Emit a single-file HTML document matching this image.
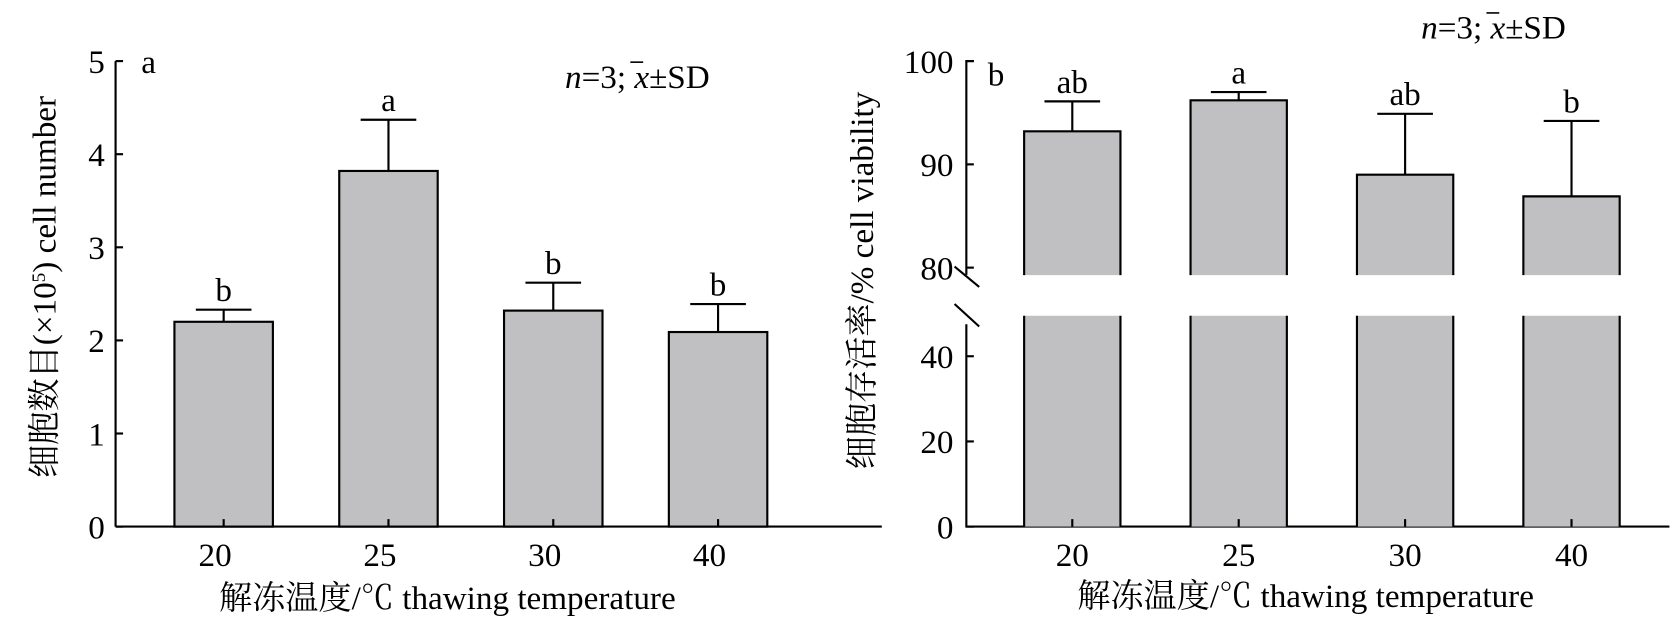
<!DOCTYPE html>
<html><head><meta charset="utf-8"><style>
html,body{margin:0;padding:0;background:#fff;}
svg{display:block;}
text{font-family:"Liberation Serif","Noto Serif CJK SC","Noto Sans CJK SC",serif;fill:#000;}
</style></head><body>
<svg id="chart" width="1678" height="638" viewBox="0 0 1568 596" xmlns="http://www.w3.org/2000/svg">
<g id="pa"></g>
<g id="pb"></g>
</svg>
<script>
const categories = ["20","25","30","40"];
const countMeans = [2.2, 3.82, 2.32, 2.09];
const countErrTops = [2.33, 4.37, 2.62, 2.39];
const countLetters = ["b","a","b","b"];
const countTicks = [0,1,2,3,4,5];
const viaMeans = [93.2, 96.2, 89.0, 86.9];
const viaErrTops = [96.1, 97.0, 94.9, 94.2];
const viaLetters = ["ab","a","ab","b"];
const viaTicksLow = [0,20,40];
const viaTicksHigh = [80,90,100];

const NS="http://www.w3.org/2000/svg";
function el(p,t,a,txt){const e=document.createElementNS(NS,t);for(const k in a)e.setAttribute(k,a[k]);if(txt!==undefined)e.textContent=txt;p.appendChild(e);return e;}
const FS=31;

function statsNote(p,x,y,name){
  const g=el(p,'g',{});
  
  
  const t=el(g,'text',{x:x,y:y,'font-size':FS});
  t.innerHTML='<tspan font-style="italic">n</tspan>=3; <tspan font-style="italic">x</tspan>±SD';
  const l=el(g,'line',{x1:x+61,y1:y-24,x2:x+73,y2:y-24,stroke:'#000','stroke-width':1.5});
}

// Panel A
const A=document.getElementById('pa');
const ax0=108, ay0=492, ayTop=57;
const yA=v=>ay0-(v/5)*(ay0-ayTop);
const xA=i=>209+i*154;
const bw=92;
let e;
e=el(A,'line',{x1:ax0,y1:ayTop,x2:ax0,y2:ay0,stroke:'#000','stroke-width':2});

e=el(A,'line',{x1:ax0,y1:ay0,x2:824,y2:ay0,stroke:'#000','stroke-width':2});

countTicks.forEach(t=>{
  e=el(A,'line',{x1:ax0,y1:yA(t),x2:ax0+7,y2:yA(t),stroke:'#000','stroke-width':2});
  
  e=el(A,'text',{x:ax0-10,y:yA(t)+11,'text-anchor':'end','font-size':FS},String(t));
  
});
categories.forEach((c,i)=>{
  const cx=xA(i);
  e=el(A,'rect',{x:cx-bw/2,y:yA(countMeans[i]),width:bw,height:ay0-yA(countMeans[i]),fill:'#c0bfc1',stroke:'#000','stroke-width':2});
  
  e=el(A,'path',{d:`M${cx} ${yA(countMeans[i])}V${yA(countErrTops[i])}M${cx-26} ${yA(countErrTops[i])}H${cx+26}`,stroke:'#000','stroke-width':2,fill:'none'});
  
  e=el(A,'text',{x:cx,y:yA(countErrTops[i])-8,'text-anchor':'middle','font-size':FS},countLetters[i]);
  
  e=el(A,'line',{x1:cx,y1:ay0,x2:cx,y2:ay0-7,stroke:'#000','stroke-width':2});
  
  e=el(A,'text',{x:cx-8,y:529,'text-anchor':'middle','font-size':FS},c);
  
});
e=el(A,'text',{x:418,y:569,'text-anchor':'middle','font-size':FS},'解冻温度/℃ thawing temperature');

e=el(A,'text',{x:0,y:0,'text-anchor':'middle','font-size':FS,transform:'translate(52,268) rotate(-90)'});

e.innerHTML='细胞数目(×10<tspan dy="-10" font-size="18">5</tspan><tspan dy="10">) cell number</tspan>';
e=el(A,'text',{x:132,y:68,'font-size':FS},'a');

statsNote(A,528,82,'stats-note-a');

// Panel B
const B=document.getElementById('pb');
const bx0=903, by0=492;
const yHi=v=>57+(100-v)*9.65;          // upper segment 80-100
const yLo=v=>by0-v*3.98;              // lower segment 0-50
const xB=i=>1002+i*155.5;
const bw2=90;
e=el(B,'path',{d:`M${bx0+7} ${yHi(100)}H${bx0}V${yHi(79.3)}M${bx0} ${yLo(47.5)}V${by0}H1560`,stroke:'#000','stroke-width':2,fill:'none'});

e=el(B,'path',{d:`M892 249L915 268M892 284L915 305`,stroke:'#000','stroke-width':2,fill:'none'});

viaTicksHigh.forEach(t=>{
  e=el(B,'line',{x1:bx0,y1:yHi(t),x2:bx0+7,y2:yHi(t),stroke:'#000','stroke-width':2});
  
  e=el(B,'text',{x:bx0-12,y:yHi(t)+11,'text-anchor':'end','font-size':FS},String(t));
  
});
viaTicksLow.forEach(t=>{
  e=el(B,'line',{x1:bx0,y1:yLo(t),x2:bx0+7,y2:yLo(t),stroke:'#000','stroke-width':2});
  
  e=el(B,'text',{x:bx0-12,y:yLo(t)+11,'text-anchor':'end','font-size':FS},String(t));
  
});
categories.forEach((c,i)=>{
  const cx=xB(i), l=cx-bw2/2, r=cx+bw2/2;
  const top=yHi(viaMeans[i]), brk1=257, brk2=yLo(49.5);
  e=el(B,'rect',{x:l,y:top,width:bw2,height:brk1-top,fill:'#c0bfc1'});
  
  e=el(B,'rect',{x:l,y:brk2,width:bw2,height:by0-brk2,fill:'#c0bfc1'});
  
  e=el(B,'path',{d:`M${l} ${brk1}V${top}H${r}V${brk1}M${l} ${brk2}V${by0}M${r} ${brk2}V${by0}`,stroke:'#000','stroke-width':2,fill:'none'});
  
  e=el(B,'path',{d:`M${cx} ${top}V${yHi(viaErrTops[i])}M${cx-26} ${yHi(viaErrTops[i])}H${cx+26}`,stroke:'#000','stroke-width':2,fill:'none'});
  
  e=el(B,'text',{x:cx,y:yHi(viaErrTops[i])-8,'text-anchor':'middle','font-size':FS},viaLetters[i]);
  
  e=el(B,'line',{x1:cx,y1:by0,x2:cx,y2:by0-7,stroke:'#000','stroke-width':2});
  
  e=el(B,'text',{x:cx,y:529,'text-anchor':'middle','font-size':FS},c);
  
});
e=el(B,'text',{x:1220,y:567,'text-anchor':'middle','font-size':FS},'解冻温度/℃  thawing temperature');

e=el(B,'text',{x:0,y:0,'text-anchor':'middle','font-size':FS,transform:'translate(816,262) rotate(-90)'},'细胞存活率/% cell viability');

e=el(B,'text',{x:923,y:80,'font-size':FS},'b');

statsNote(B,1328,36,'stats-note-b');
</script>
</body></html>
